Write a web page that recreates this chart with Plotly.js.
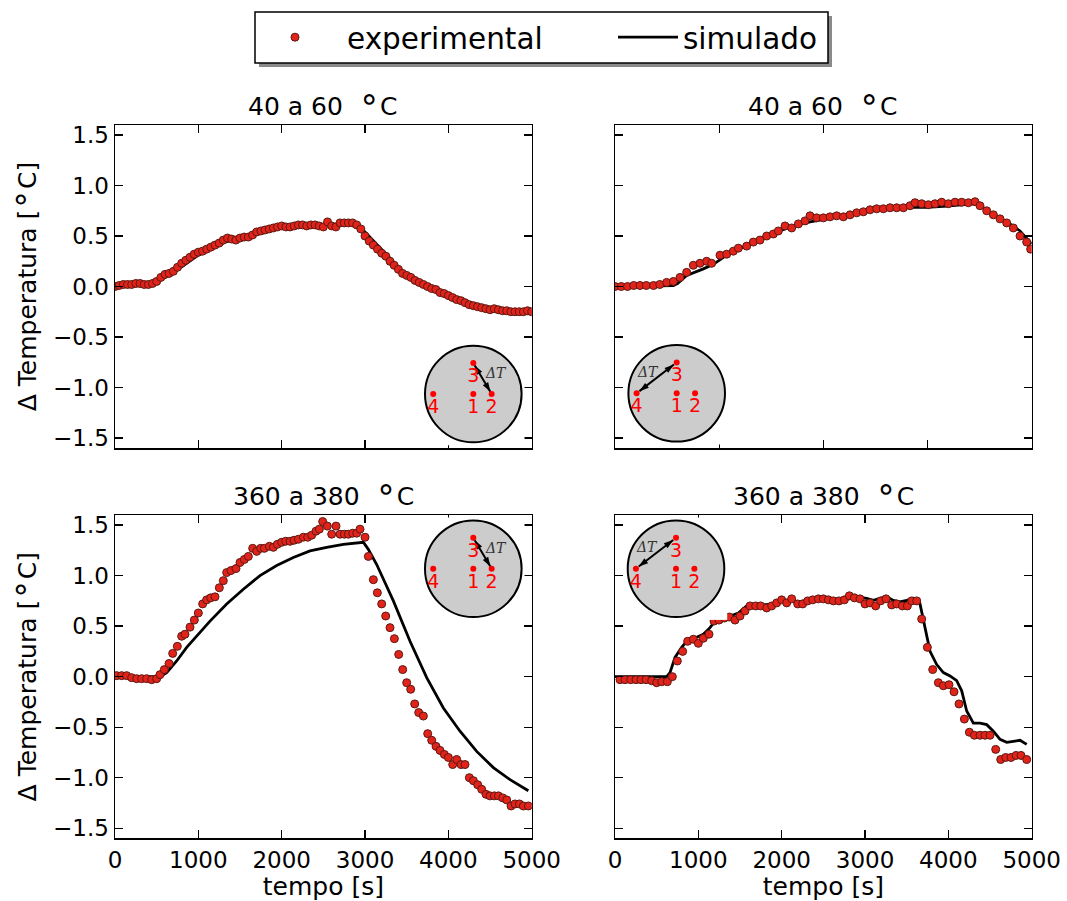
<!DOCTYPE html>
<html>
<head>
<meta charset="utf-8">
<script src="https://cdn.plot.ly/plotly-3.0.1.min.js"></script>
<style>html,body{margin:0;padding:0;background:#fff;}#chart{width:1067px;height:901px;}</style>
</head>
<body>
<div id="chart"></div>
<script>
// ---------------- data ----------------
const RING = '<span style="font-size:34px;baseline-shift:5px">∘</span>';
const panelTitles = ['40 a 60 \u00a0' + RING + 'C', '40 a 60 \u00a0' + RING + 'C', '360 a 380 \u00a0' + RING + 'C', '360 a 380 \u00a0' + RING + 'C'];
const yTitle = 'Δ Temperatura [' + '<span style="font-size:33px;baseline-shift:5px">∘</span>' + 'C]';
const xTitle = 'tempo [s]';
const xTicks = [0, 1000, 2000, 3000, 4000, 5000];
const yTicks = [-1.5, -1.0, -0.5, 0.0, 0.5, 1.0, 1.5];
const seriesNames = ['experimental', 'simulado'];

// panel 1 (top left) : 40 a 60 C, sensors 3-2
const p1ExpTime = [0,50,100,150,200,250,300,350,400,450,500,550,600,650,700,750,800,850,900,950,1000,1050,1100,1150,1200,1250,1300,1350,1400,1450,1500,1550,1600,1650,1700,1750,1800,1850,1900,1950,2000,2050,2100,2150,2200,2250,2300,2350,2400,2450,2500,2550,2600,2650,2700,2750,2800,2850,2900,2950,3000,3050,3100,3150,3200,3250,3300,3350,3400,3450,3500,3550,3600,3650,3700,3750,3800,3850,3900,3950,4000,4050,4100,4150,4200,4250,4300,4350,4400,4450,4500,4550,4600,4650,4700,4750,4800,4850,4900,4950,5000];
const p1ExpDelta = [0.00,0.01,0.02,0.02,0.02,0.03,0.03,0.02,0.02,0.03,0.05,0.09,0.12,0.13,0.15,0.19,0.23,0.26,0.29,0.32,0.34,0.35,0.37,0.39,0.41,0.43,0.46,0.48,0.47,0.46,0.48,0.49,0.49,0.51,0.54,0.55,0.56,0.57,0.58,0.59,0.60,0.59,0.59,0.60,0.61,0.61,0.60,0.61,0.61,0.60,0.59,0.64,0.60,0.59,0.63,0.63,0.63,0.63,0.61,0.57,0.50,0.45,0.41,0.37,0.33,0.30,0.25,0.21,0.17,0.13,0.11,0.09,0.06,0.04,0.02,0.00,-0.02,-0.03,-0.06,-0.07,-0.09,-0.11,-0.13,-0.14,-0.16,-0.18,-0.19,-0.20,-0.21,-0.22,-0.23,-0.22,-0.23,-0.24,-0.24,-0.25,-0.25,-0.25,-0.25,-0.24,-0.25];
const p1SimTime = [0,180,440,580,740,1000,1140,1340,1620,1820,2000,2340,2740,2900,3000,3220,3460,3740,4000,4340,4660,5000];
const p1SimDelta = [0.01,0.015,0.02,0.08,0.16,0.31,0.37,0.445,0.50,0.54,0.58,0.60,0.62,0.62,0.54,0.35,0.14,-0.01,-0.115,-0.22,-0.26,-0.27];

// panel 2 (top right) : 40 a 60 C, sensors 3-4
const p2ExpTime = [0,60,120,180,240,300,370,430,496,560,624,688,752,816,880,928,1008,1072,1136,1184,1264,1328,1392,1456,1520,1568,1632,1696,1760,1824,1872,1936,2000,2064,2128,2192,2256,2320,2384,2448,2512,2576,2640,2704,2768,2832,2880,2944,3008,3072,3136,3200,3264,3328,3392,3456,3504,3568,3632,3696,3760,3824,3888,3952,3990];
const p2ExpDelta = [0.00,0.00,0.00,0.01,0.01,0.01,0.01,0.02,0.04,0.05,0.09,0.14,0.21,0.23,0.25,0.23,0.31,0.32,0.35,0.38,0.40,0.44,0.46,0.50,0.52,0.55,0.60,0.58,0.62,0.65,0.70,0.68,0.68,0.69,0.70,0.69,0.71,0.73,0.74,0.76,0.77,0.77,0.78,0.78,0.78,0.80,0.83,0.82,0.81,0.82,0.835,0.82,0.835,0.835,0.83,0.84,0.80,0.75,0.71,0.67,0.63,0.58,0.50,0.44,0.37];
const p2SimTime = [0,560,600,688,848,944,1072,1232,1392,1552,1712,1872,2032,2192,2352,2512,2672,2832,2992,3152,3312,3440,3504,3632,3792,3888,4000];
const p2SimDelta = [0.00,0.01,0.03,0.11,0.175,0.22,0.31,0.39,0.47,0.54,0.60,0.64,0.67,0.70,0.74,0.76,0.78,0.785,0.785,0.795,0.81,0.82,0.80,0.72,0.62,0.55,0.42];

// panel 3 (bottom left) : 360 a 380 C, sensors 3-2
const p3ExpTime = [20,80,140,200,260,320,380,440,500,540,592,648,692,748,800,840,900,952,1000,1052,1100,1148,1200,1252,1300,1340,1392,1452,1500,1552,1600,1652,1700,1748,1792,1852,1900,1948,2000,2048,2100,2148,2200,2260,2312,2360,2412,2452,2492,2548,2600,2652,2700,2752,2800,2852,2900,2940,3000,3040,3100,3148,3200,3248,3300,3352,3404,3452,3500,3548,3596,3644,3700,3752,3800,3852,3900,3952,4000,4052,4100,4152,4200,4252,4300,4352,4400,4452,4500,4552,4600,4652,4700,4752,4800,4852,4900,4960];
const p3ExpDelta = [0.01,0.01,0.01,-0.01,-0.02,-0.02,-0.02,-0.03,-0.02,0.02,0.07,0.13,0.23,0.30,0.40,0.42,0.49,0.56,0.63,0.72,0.76,0.78,0.79,0.88,0.95,1.03,1.05,1.07,1.13,1.16,1.19,1.27,1.24,1.27,1.27,1.29,1.28,1.31,1.33,1.34,1.34,1.35,1.36,1.38,1.38,1.40,1.44,1.46,1.535,1.49,1.41,1.49,1.41,1.41,1.41,1.42,1.42,1.46,1.38,1.19,0.96,0.83,0.72,0.60,0.485,0.376,0.22,0.07,-0.06,-0.125,-0.27,-0.355,-0.39,-0.564,-0.63,-0.69,-0.73,-0.77,-0.80,-0.87,-0.82,-0.87,-0.87,-1.00,-1.03,-1.07,-1.115,-1.165,-1.18,-1.18,-1.18,-1.20,-1.22,-1.28,-1.26,-1.26,-1.28,-1.28];
const p3SimTime = [0,540,620,740,860,1000,1140,1340,1540,1740,1940,2140,2340,2540,2740,2980,3040,3140,3340,3540,3740,3940,4140,4340,4540,4740,4960];
const p3SimDelta = [0.00,0.00,0.04,0.155,0.29,0.42,0.55,0.72,0.865,1.00,1.10,1.18,1.245,1.28,1.31,1.33,1.26,1.11,0.75,0.35,-0.01,-0.31,-0.54,-0.74,-0.90,-1.02,-1.13];

// panel 4 (bottom right) : 360 a 380 C, sensors 3-4
const p4ExpTime = [60,120,188,252,312,372,440,500,560,628,688,748,812,872,940,1000,1060,1128,1188,1248,1312,1372,1440,1500,1560,1620,1688,1748,1820,1880,1940,2000,2060,2120,2192,2252,2312,2372,2440,2500,2560,2620,2688,2752,2812,2872,2940,3000,3060,3128,3188,3252,3320,3380,3448,3508,3560,3620,3680,3748,3812,3880,3940,4008,4068,4128,4192,4252,4312,4380,4440,4500,4568,4628,4688,4752,4812,4872,4940];
const p4ExpDelta = [-0.03,-0.03,-0.03,-0.03,-0.03,-0.03,-0.04,-0.06,-0.05,-0.05,0.00,0.155,0.25,0.35,0.37,0.33,0.38,0.42,0.55,0.56,0.58,0.59,0.56,0.60,0.65,0.70,0.70,0.70,0.68,0.70,0.73,0.76,0.73,0.77,0.72,0.72,0.75,0.76,0.77,0.77,0.76,0.75,0.75,0.76,0.80,0.78,0.77,0.72,0.73,0.70,0.75,0.77,0.71,0.72,0.70,0.70,0.75,0.75,0.57,0.29,0.07,-0.06,-0.09,-0.08,-0.15,-0.27,-0.42,-0.55,-0.58,-0.58,-0.58,-0.58,-0.72,-0.82,-0.80,-0.80,-0.78,-0.78,-0.82];
const p4SimTime = [0,620,660,720,800,880,980,1060,1140,1200,1280,1380,1480,1580,1660,1780,1900,2000,2100,2200,2300,2420,2540,2660,2780,2900,3020,3100,3180,3260,3340,3420,3500,3580,3652,3700,3780,3860,3940,4020,4100,4160,4220,4300,4380,4460,4540,4620,4700,4780,4860,4940];
const p4SimDelta = [0.00,0.00,0.04,0.19,0.29,0.37,0.39,0.42,0.485,0.55,0.58,0.60,0.63,0.70,0.71,0.71,0.72,0.755,0.755,0.74,0.755,0.775,0.775,0.765,0.765,0.79,0.775,0.755,0.775,0.79,0.755,0.74,0.755,0.775,0.75,0.55,0.25,0.12,0.04,0.007,-0.04,-0.14,-0.34,-0.46,-0.46,-0.475,-0.54,-0.62,-0.65,-0.64,-0.63,-0.67];

// inset diagram: sensor positions on the disc (unit radius)
const sensorLabels = ['1', '2', '3', '4'];
const sensorX = [0, 0.38, 0, -0.83];
const sensorY = [0, 0, 0.64, 0];
const pairs = [[2, 1], [2, 3], [2, 1], [2, 3]]; // sensors compared in each panel (3-2 or 3-4)

// ---------------- layout helpers ----------------
const W = 1067, H = 901;
const FONT = 'DejaVu Sans, Liberation Sans, sans-serif';
const px = (a, b) => [a / W, b / W];
const py = (top, bot) => [1 - bot / H, 1 - top / H];

const boxes = [
  {l: 115, r: 531.7, t: 125, b: 448, xmax: 5000},
  {l: 615, r: 1031.7, t: 125, b: 448, xmax: 4000},
  {l: 115, r: 531.7, t: 515, b: 838.3, xmax: 5000},
  {l: 615, r: 1031.7, t: 515, b: 838.3, xmax: 5000}
];
const insetCenters = [[473.3, 394], [676.7, 393.3], [473.3, 568.7], [676, 568.7]];
const insetR = 48.3;
const deltaLabelPos = [[0.47, 0.43], [-0.6, 0.45], [0.47, 0.43], [-0.6, 0.45]];

const expT = [p1ExpTime, p2ExpTime, p3ExpTime, p4ExpTime];
const expV = [p1ExpDelta, p2ExpDelta, p3ExpDelta, p4ExpDelta];
const simT = [p1SimTime, p2SimTime, p3SimTime, p4SimTime];
const simV = [p1SimDelta, p2SimDelta, p3SimDelta, p4SimDelta];

const legendFont = {family: FONT, size: 29.5, color: '#000'};
const traces = [];
const layout = {
  width: W, height: H,
  margin: {l: 0, r: 0, t: 0, b: 0},
  paper_bgcolor: '#fff', plot_bgcolor: '#fff',
  font: {family: FONT, color: '#000'},
  showlegend: true,
  // two borderless legends placed inside one framed box (frame + shadow drawn as shapes)
  legend: {orientation: 'h', x: 243 / W, xanchor: 'left', y: 1 - 37.5 / H, yanchor: 'middle',
           font: legendFont, bgcolor: 'rgba(0,0,0,0)', borderwidth: 0, itemwidth: 94},
  legend2: {orientation: 'h', x: 613 / W, xanchor: 'left', y: 1 - 37.5 / H, yanchor: 'middle',
            font: legendFont, bgcolor: 'rgba(0,0,0,0)', borderwidth: 0, itemwidth: 60},
  annotations: [],
  shapes: [
    {type: 'rect', xref: 'paper', yref: 'paper', x0: 259 / W, x1: 832 / W, y0: 1 - 67 / H, y1: 1 - 16 / H,
     fillcolor: '#8a8a8a', line: {width: 0}, layer: 'below'},
    {type: 'rect', xref: 'paper', yref: 'paper', x0: 255 / W, x1: 828 / W, y0: 1 - 63 / H, y1: 1 - 12 / H,
     fillcolor: '#fff', line: {width: 1.5, color: '#000'}, layer: 'below'}
  ]
};

function axisBase(extra) {
  return Object.assign({
    showline: true, linecolor: '#000', linewidth: 1.5, mirror: 'ticks',
    ticks: 'inside', ticklen: 8, tickwidth: 1.3, tickcolor: '#000',
    showgrid: false, zeroline: false, fixedrange: true,
    tickfont: {family: FONT, size: 23, color: '#000'}
  }, extra);
}

boxes.forEach((bx, i) => {
  const n = i + 1;
  const xa = 'xaxis' + (n === 1 ? '' : n), ya = 'yaxis' + (n === 1 ? '' : n);
  const xr = 'x' + (n === 1 ? '' : n), yr = 'y' + (n === 1 ? '' : n);
  const bottom = i >= 2, left = i % 2 === 0;
  layout[xa] = axisBase({
    domain: px(bx.l, bx.r), anchor: yr, range: [0, bx.xmax],
    tickvals: xTicks, showticklabels: bottom, ticklabelstandoff: 1
  });
  if (bottom) layout[xa].title = {text: xTitle, font: {family: FONT, size: 25}, standoff: 18};
  layout[ya] = axisBase({
    domain: py(bx.t, bx.b), anchor: xr, range: [-1.6, 1.6],
    tickvals: yTicks, tickformat: '.1f', showticklabels: left, ticklabelstandoff: 0
  });
  if (left) layout[ya].title = {text: yTitle, font: {family: FONT, size: 25}, standoff: 20};

  // simulated line (below the markers)
  traces.push({
    type: 'scatter', mode: 'lines', x: simT[i], y: simV[i], xaxis: xr, yaxis: yr,
    name: seriesNames[1], legend: 'legend2', showlegend: i === 0,
    line: {color: '#000', width: 2.8}, hoverinfo: 'skip'
  });
  // experimental points
  traces.push({
    type: 'scatter', mode: 'markers', x: expT[i], y: expV[i], xaxis: xr, yaxis: yr,
    name: seriesNames[0], legend: 'legend', showlegend: i === 0,
    marker: {color: '#e2231a', size: 8, line: {color: '#5b1a14', width: 1}}, hoverinfo: 'skip'
  });

  // panel title
  layout.annotations.push({
    xref: 'paper', yref: 'paper', x: (bx.l + bx.r) / 2 / W, y: 1 - (bx.t - 26) / H,
    xanchor: 'center', yanchor: 'middle', showarrow: false,
    text: panelTitles[i], font: {family: FONT, size: 25, color: '#000'}
  });

  // inset diagram in its own small axes
  const m = 4 + n;
  const ix = 'x' + m, iy = 'y' + m;
  const c = insetCenters[i], half = insetR * 1.06;
  layout['xaxis' + m] = {domain: px(c[0] - half, c[0] + half), range: [-1.06, 1.06], anchor: iy, visible: false, fixedrange: true};
  layout['yaxis' + m] = {domain: py(c[1] - half, c[1] + half), range: [-1.06, 1.06], anchor: ix, visible: false, fixedrange: true};
  layout.shapes.push({
    type: 'circle', xref: ix, yref: iy, x0: -1, x1: 1, y0: -1, y1: 1,
    fillcolor: '#cccccc', line: {color: '#000', width: 2}, layer: 'below'
  });
  // double arrow between the two compared sensors
  const [a, b] = pairs[i];
  const dx = sensorX[b] - sensorX[a], dy = sensorY[b] - sensorY[a];
  const ang = Math.atan2(dx, dy) * 180 / Math.PI;
  const k = 0.07;
  traces.push({
    type: 'scatter', mode: 'lines+markers', xaxis: ix, yaxis: iy, showlegend: false, hoverinfo: 'skip',
    x: [sensorX[a] + k * dx, sensorX[b] - k * dx], y: [sensorY[a] + k * dy, sensorY[b] - k * dy],
    line: {color: '#000', width: 2},
    marker: {symbol: 'arrow', size: 10, color: '#000', angle: [ang + 180, ang], line: {width: 0}}
  });
  traces.push({
    type: 'scatter', mode: 'markers+text', x: sensorX, y: sensorY, xaxis: ix, yaxis: iy,
    text: sensorLabels, textposition: 'bottom center', showlegend: false, hoverinfo: 'skip', cliponaxis: false,
    marker: {color: '#ff0000', size: 6}, textfont: {family: FONT, size: 19, color: '#ff0000'}
  });
  layout.annotations.push({
    xref: ix, yref: iy, x: deltaLabelPos[i][0], y: deltaLabelPos[i][1], showarrow: false,
    text: '<i>ΔT</i>', font: {family: 'DejaVu Serif, serif', size: 14, color: '#333'}
  });
});

Plotly.newPlot('chart', traces, layout, {staticPlot: true, displayModeBar: false});
</script>
</body>
</html>
